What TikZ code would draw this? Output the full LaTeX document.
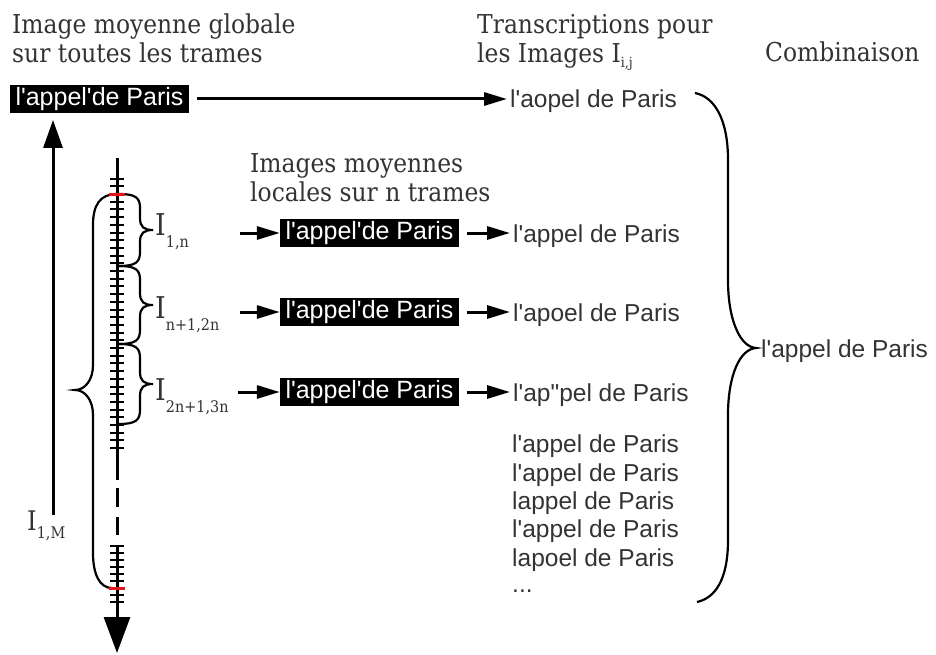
\documentclass[tikz,border=0pt]{standalone}
\usepackage{fontspec}
\usetikzlibrary{arrows.meta}
\newfontfamily\serf[FakeStretch=0.9]{DejaVu Serif}
\newfontfamily\sanf{Liberation Sans}
\definecolor{txt}{HTML}{333333}
\definecolor{tickred}{HTML}{E8141C}
\newcommand\mylab[3]{{\fontsize{#1}{#1}\selectfont I}\raisebox{-#3pt}{\fontsize{16}{16}\selectfont #2}}
\begin{document}
\begin{tikzpicture}[x=1pt,y=-1pt,
  head/.style={font=\serf\fontsize{26}{29}\selectfont, text=txt, inner sep=0pt, anchor=base west, align=left},
  lab/.style={font=\serf, text=txt, inner sep=0pt, anchor=base west},
  sans/.style={font=\sanf\fontsize{24.5}{28}\selectfont, text=txt, inner sep=0pt, anchor=base west},
  bbox/.style={fill=black, text=white, font=\sanf\fontsize{25}{25}\selectfont, minimum width=179pt, minimum height=28pt, inner sep=0pt},
  arr/.style={line width=3pt, -{Triangle[length=23pt,width=13pt]}},
  tickline/.style={line width=2pt},
  brace/.style={line width=2.2pt}]
\useasboundingbox (0,0) rectangle (936,655);

% headings (base anchor = last line)
\node[head] (h1) at (12,63) {Image moyenne globale\\sur toutes les trames};
\node[head] (h2) at (477,63) {Transcriptions pour\\les Images I\raisebox{-5pt}{\fontsize{14}{14}\selectfont i,j}};
\node[head] (h3) at (765,62) {Combinaison};
\node[head] (h4) at (250,201) {Images moyennes\\locales sur n trames};

% black boxes
\node[bbox] (g)  at (99.5,99) {l'appel'de Paris};
\node[bbox] (b1) at (369.5,233) {l'appel'de Paris};
\node[bbox] (b2) at (369.5,312) {l'appel'de Paris};
\node[bbox] (b3) at (369.5,392) {l'appel'de Paris};

% transcriptions
\node[sans] (t0) at (510,108) {l'aopel de Paris};
\node[sans] (t1) at (513,242) {l'appel de Paris};
\node[sans] (t2) at (513,321) {l'apoel de Paris};
\node[sans] (t3) at (513,401) {l'ap"pel de Paris};
\node[sans] (l1) at (512,452) {l'appel de Paris};
\node[sans] (l2) at (512,481) {l'appel de Paris};
\node[sans] (l3) at (512,509) {lappel de Paris};
\node[sans] (l4) at (512,537) {l'appel de Paris};
\node[sans] (l5) at (512,566) {lapoel de Paris};
\node[sans] (l6) at (512,592) {...};
\node[sans] (res) at (761,357) {l'appel de Paris};

% arrows
\draw[arr, shorten <=8pt, shorten >=3pt] (g.east) -- (g.east -| t0.west);
\coordinate (s1) at (240,233);
\coordinate (s2) at (240,312);
\coordinate (s3) at (238,392);
\draw[arr] (s1) -- (b1.west);
\draw[arr] (s2) -- (b2.west);
\draw[arr] (s3) -- (b3.west);
\draw[arr, shorten <=8pt, shorten >=3pt] (b1.east) -- (b1.east -| t1.west);
\draw[arr, shorten <=8pt, shorten >=3pt] (b2.east) -- (b2.east -| t2.west);
\draw[arr, shorten <=8pt, shorten >=3pt] (b3.east) -- (b3.east -| t3.west);

% global vertical arrow
\coordinate (vb) at (53,515);
\coordinate (vt) at (53,120);
\draw[line width=3pt, -{Triangle[length=28pt,width=19pt]}] (vb) -- (vt);
\node[lab] (IM) at (27,530) {\mylab{27}{1,M}{8}};

% timeline
\draw[line width=3pt] (117,158) -- (117,480);
\draw[line width=3pt] (117,488) -- (117,507);
\draw[line width=3pt] (117,517) -- (117,535);
\draw[line width=3pt, -{Triangle[length=36pt,width=26pt]}] (117,545) -- (117,653);
\foreach \y in {178.6,186.3,...,452} \draw[tickline] (110,\y) -- (124,\y);
\foreach \y in {546,553,...,602} \draw[tickline] (110,\y) -- (124,\y);

% small braces
\foreach \a/\b in {194/266, 266/344, 344/424} {
  \pgfmathsetmacro\m{(\a+\b)/2}
  \draw[brace] (119,\a) .. controls (136,\a) and (140,\a+4) .. (140,\a+14) -- (140,\m-12)
     .. controls (140,\m-3) and (144,\m) .. (153,\m)
     .. controls (144,\m) and (140,\m+3) .. (140,\m+12) -- (140,\b-14)
     .. controls (140,\b-4) and (136,\b) .. (119,\b);
}
\node[lab] (I1) at (155,235) {\mylab{30}{1,n}{12}};
\node[lab] (I2) at (155,318) {\mylab{30}{n+1,2n}{12}};
\node[lab] (I3) at (155,400) {\mylab{30}{2n+1,3n}{12}};

% big left brace
\draw[brace] (117,194) .. controls (100,194) and (93,205) .. (93,225) -- (93,365)
   .. controls (93,380) and (85,390) .. (75,390)
   .. controls (85,390) and (93,400) .. (93,415) -- (93,553)
   .. controls (93,575) and (100,588) .. (112,588);

% red ticks on top
\draw[line width=3pt, tickred] (109,194) -- (125,194);
\draw[line width=3pt, tickred] (109,588) -- (125,588);

% big right brace
\draw[brace] (695,93) .. controls (715,97) and (728,120) .. (728,160) -- (728,280)
   .. controls (728,320) and (740,347) .. (756,348)
   .. controls (740,349) and (728,375) .. (728,415) -- (728,540)
   .. controls (728,580) and (715,598) .. (697,602);
\end{tikzpicture}
\end{document}
